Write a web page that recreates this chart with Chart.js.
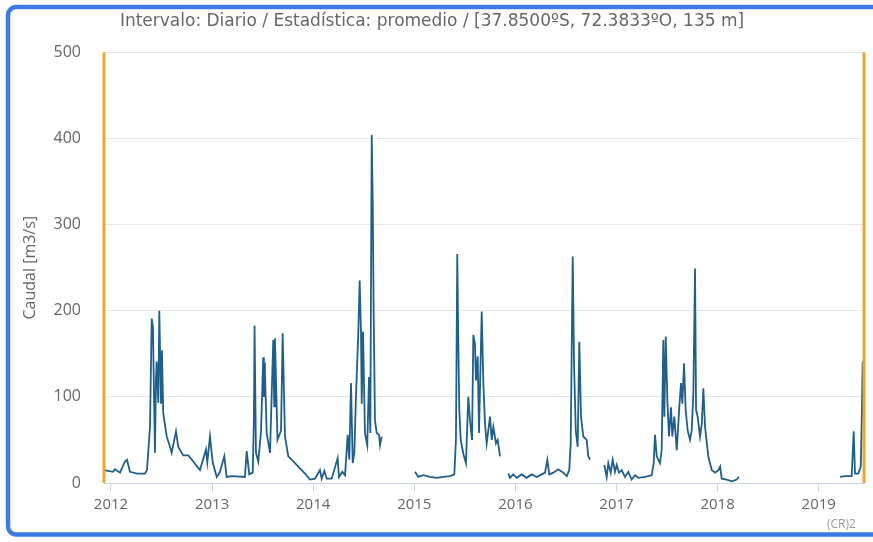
<!DOCTYPE html>
<html>
<head>
<meta charset="utf-8">
<script src="https://cdn.jsdelivr.net/npm/chart.js@4"></script>
<style>
  body { margin: 0; background: #fff; overflow: hidden; }
  #wrap { position: relative; width: 873px; height: 542px; overflow: hidden; }
  #credit {
    position: absolute; left: 827px; top: 515px;
    font: 12px "Open Sans", sans-serif; color: #999;
  }
</style>
</head>
<body>
<div id="wrap">
  <canvas id="chart" width="873" height="542"></canvas>
  <div id="credit">(CR)2</div>
</div>
<script>
// fecha en años decimales, caudal diario en m3/s (null = sin datos)
const fechas = [
  2011.931, 2012.020, 2012.040, 2012.089, 2012.138, 2012.158, 2012.188, 2012.257, 2012.336, 2012.356,
  2012.386, 2012.403, 2012.415, 2012.435, 2012.445, 2012.452, 2012.468, 2012.478, 2012.495, 2012.504,
  2012.517, 2012.551, 2012.584, 2012.600, 2012.643, 2012.666, 2012.715, 2012.765, 2012.814, 2012.880,
  2012.940, 2012.953, 2012.979, 2013.006, 2013.046, 2013.078, 2013.121, 2013.144, 2013.197, 2013.325,
  2013.342, 2013.368, 2013.402, 2013.414, 2013.420, 2013.434, 2013.457, 2013.484, 2013.506, 2013.512,
  2013.517, 2013.523, 2013.540, 2013.573, 2013.605, 2013.615, 2013.622, 2013.647, 2013.682, 2013.698,
  2013.721, 2013.754, 2013.803, 2013.869, 2013.919, 2013.968, 2014.018, 2014.067, 2014.084, 2014.110,
  2014.134, 2014.183, 2014.242, 2014.255, 2014.288, 2014.315, 2014.341, 2014.357, 2014.374, 2014.391,
  2014.407, 2014.423, 2014.446, 2014.460, 2014.473, 2014.480, 2014.493, 2014.512, 2014.535, 2014.552,
  2014.565, 2014.579, 2014.589, 2014.599, 2014.611, 2014.628, 2014.651, 2014.661, 2014.678,
  2014.850,
  2015.007, 2015.040, 2015.089, 2015.155, 2015.222, 2015.287, 2015.353, 2015.396, 2015.412, 2015.425,
  2015.435, 2015.445, 2015.459, 2015.485, 2015.511, 2015.534, 2015.551, 2015.571, 2015.584, 2015.600,
  2015.610, 2015.627, 2015.640, 2015.667, 2015.683, 2015.699, 2015.716, 2015.749, 2015.766, 2015.782,
  2015.808, 2015.825, 2015.848,
  2015.890,
  2015.930, 2015.947, 2015.979, 2016.013, 2016.062, 2016.112, 2016.161, 2016.211, 2016.260, 2016.293,
  2016.316, 2016.335, 2016.375, 2016.424, 2016.474, 2016.508, 2016.533, 2016.547, 2016.567, 2016.580,
  2016.597, 2016.616, 2016.632, 2016.649, 2016.672, 2016.705, 2016.721, 2016.738,
  2016.810,
  2016.879, 2016.903, 2016.919, 2016.943, 2016.962, 2016.985, 2017.002, 2017.025, 2017.051, 2017.084,
  2017.117, 2017.150, 2017.183, 2017.216, 2017.282, 2017.348, 2017.368, 2017.381, 2017.398, 2017.430,
  2017.447, 2017.463, 2017.473, 2017.487, 2017.503, 2017.519, 2017.539, 2017.552, 2017.572, 2017.596,
  2017.621, 2017.638, 2017.651, 2017.668, 2017.684, 2017.704, 2017.727, 2017.744, 2017.760, 2017.777,
  2017.787, 2017.803, 2017.826, 2017.844, 2017.859, 2017.876, 2017.908, 2017.942, 2017.975, 2018.008,
  2018.025, 2018.041, 2018.090, 2018.140, 2018.189, 2018.212,
  2018.700,
  2019.211, 2019.260, 2019.326, 2019.346, 2019.359, 2019.392, 2019.416, 2019.425, 2019.435, 2019.441,
  2019.448
];
const caudal = [
  15, 13, 16, 12, 25, 27, 13, 11, 11, 15,
  65, 191, 181, 35, 120, 141, 93, 200, 93, 154,
  81, 54, 42, 35, 60, 42, 32, 32, 25, 15,
  39, 24, 54, 24, 7, 13, 31, 7, 8, 7,
  37, 10, 12, 77, 183, 35, 25, 60, 146, 100,
  140, 128, 58, 35, 166, 89, 168, 50, 61, 174,
  54, 31, 25, 17, 11, 4, 5, 15, 5, 14,
  5, 5, 29, 7, 13, 9, 56, 27, 116, 23,
  35, 100, 174, 235, 174, 92, 176, 58, 44, 123,
  58, 404, 326, 189, 73, 58, 56, 44, 54,
  null,
  13, 7, 9, 7, 6, 7, 8, 10, 50, 266,
  166, 85, 50, 34, 23, 100, 73, 50, 172, 162,
  119, 147, 58, 199, 116, 69, 46, 77, 50, 65,
  46, 50, 31,
  null,
  11, 6, 10, 6, 10, 6, 10, 7, 10, 12,
  27, 10, 12, 16, 12, 8, 15, 46, 263, 139,
  61, 42, 164, 77, 54, 50, 31, 27,
  null,
  21, 7, 23, 12, 27, 13, 21, 12, 15, 7,
  13, 4, 9, 6, 7, 9, 23, 56, 31, 23,
  38, 166, 77, 170, 96, 54, 88, 54, 77, 38,
  88, 116, 92, 139, 85, 61, 50, 61, 104, 249,
  85, 77, 54, 69, 110, 65, 31, 15, 12, 15,
  19, 5, 4, 2, 4, 7,
  null,
  7, 8, 8, 60, 11, 11, 19, 69, 141, 88,
  70
];

const xTicks = [2012, 2013, 2014, 2015, 2016, 2017, 2018, 2019];
const yTicks = [0, 100, 200, 300, 400, 500];
// inicio y fin del periodo consultado
const rango = [2011.931, 2019.448];

const rangoPlugin = {
  id: 'rango',
  afterDatasetsDraw(chart) {
    const { ctx, chartArea, scales } = chart;
    ctx.save();
    ctx.strokeStyle = '#f2a42c';
    ctx.lineWidth = 3;
    rango.forEach(v => {
      let px = scales.x.getPixelForValue(v);
      ctx.beginPath();
      ctx.moveTo(px, chartArea.top);
      ctx.lineTo(px, chartArea.bottom);
      ctx.stroke();
    });
    ctx.restore();
  }
};

// marco azul de la captura: solo lados izquierdo, superior e inferior
const marcoPlugin = {
  id: 'marco',
  afterDraw(chart) {
    const { ctx, width, height } = chart;
    const l = 8, t = 7, b = height - 7.5, r = 8;
    ctx.save();
    ctx.strokeStyle = '#3d7ae3';
    ctx.lineWidth = 4.5;
    ctx.beginPath();
    ctx.moveTo(width, t);
    ctx.lineTo(l + r, t);
    ctx.arcTo(l, t, l, t + r, r);
    ctx.lineTo(l, b - r);
    ctx.arcTo(l, b, l + r, b, r);
    ctx.lineTo(width, b);
    ctx.stroke();
    ctx.restore();
  }
};

const font = '"Open Sans", sans-serif';

new Chart(document.getElementById('chart'), {
  type: 'line',
  data: {
    datasets: [{
      label: 'Caudal',
      data: fechas.map((f, i) => ({ x: f, y: caudal[i] })),
      borderColor: '#1f5f8a',
      borderWidth: 1.8,
      pointRadius: 0,
      tension: 0,
      spanGaps: false,
      fill: false
    }]
  },
  options: {
    responsive: false,
    animation: false,
    layout: { padding: { left: 0, right: 9, top: 0, bottom: 0 } },
    plugins: {
      legend: { display: false },
      tooltip: { enabled: false },
      title: {
        display: true,
        text: 'Intervalo: Diario / Estadística: promedio / [37.8500ºS, 72.3833ºO, 135 m]',
        color: '#666',
        font: { family: '"DejaVu Sans", sans-serif', size: 17, weight: 'normal' },
        padding: { top: 11, bottom: 21 }
      }
    },
    scales: {
      x: {
        type: 'linear',
        min: rango[0],
        max: rango[1],
        afterBuildTicks: scale => { scale.ticks = xTicks.map(v => ({ value: v })); },
        afterFit: scale => { scale.height = 59; },
        ticks: {
          color: '#666',
          font: { family: font, size: 15 },
          padding: 4,
          maxRotation: 0,
          autoSkip: false,
          callback: v => String(v)
        },
        grid: { drawOnChartArea: false, color: '#ccd6eb', tickLength: 9 },
        border: { color: '#ccd6eb', width: 1 }
      },
      y: {
        min: 0,
        max: 500,
        afterBuildTicks: scale => { scale.ticks = yTicks.map(v => ({ value: v })); },
        afterFit: scale => { scale.width = 104; },
        ticks: {
          color: '#666',
          font: { family: font, size: 16 },
          padding: 23
        },
        grid: { color: '#e6e6e6', drawTicks: false },
        border: { display: false },
        title: {
          display: true,
          text: 'Caudal [m3/s]',
          color: '#666',
          font: { family: font, size: 16 },
          padding: { top: 21, bottom: 0 }
        }
      }
    }
  },
  plugins: [rangoPlugin, marcoPlugin]
});
</script>
</body>
</html>
